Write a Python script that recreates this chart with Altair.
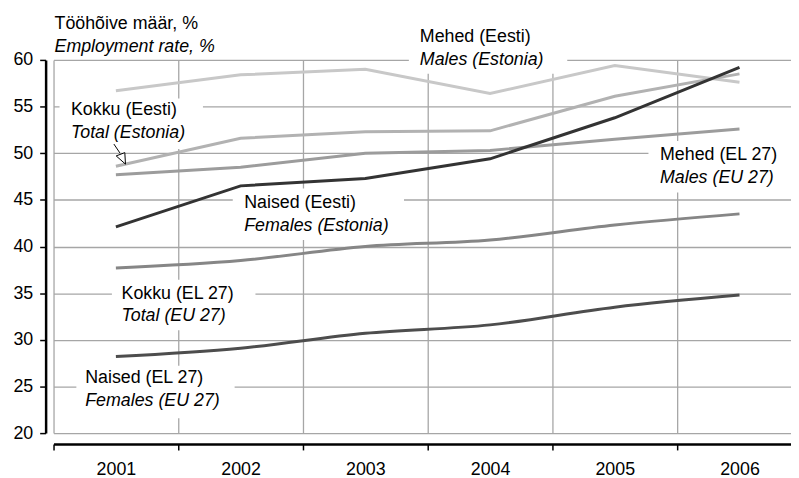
import altair as alt
import pandas as pd

FONT = "Liberation Sans"
FS = 18

years = [2001, 2002, 2003, 2004, 2005, 2006]
males_est = [56.7, 58.4, 59.0, 56.4, 59.4, 57.6]
total_est = [48.6, 51.6, 52.3, 52.4, 56.1, 58.5]
males_eu = [47.7, 48.5, 50.0, 50.3, 51.5, 52.6]
total_eu = [37.7, 38.5, 40.0, 40.7, 42.3, 43.5]
females_eu = [28.2, 29.1, 30.7, 31.6, 33.5, 34.8]
females_est = [42.1, 46.5, 47.3, 49.4, 53.8, 59.2]

series = [
    ("Mehed (Eesti)", males_est, "#c8c8c8", "linear"),
    ("Kokku (Eesti)", total_est, "#b2b2b2", "linear"),
    ("Mehed (EL 27)", males_eu, "#9c9c9c", "linear"),
    ("Kokku (EL 27)", total_eu, "#868686", "monotone"),
    ("Naised (EL 27)", females_eu, "#4d4d4d", "monotone"),
    ("Naised (Eesti)", females_est, "#333333", "linear"),
]

# annotation labels (anchor in data units: year, value at baseline)
ann_line1 = ["Mehed (Eesti)", "Kokku (Eesti)", "Naised (Eesti)", "Mehed (EL 27)", "Kokku (EL 27)", "Naised (EL 27)"]
ann_line2 = ["Males (Estonia)", "Total (Estonia)", "Females (Estonia)", "Males (EU 27)", "Total (EU 27)", "Females (EU 27)"]
ann_x = [2003.437, 2000.64, 2002.029, 2005.363, 2001.045, 2000.754]
ann_y1 = [61.9, 54.06, 44.09, 49.27, 34.41, 25.34]
ann_y2 = [59.42, 51.62, 41.71, 46.79, 31.97, 22.93]
box_x1 = [2003.349, 2000.548, 2001.937, 2005.27, 2000.968, 2000.683]
box_x2 = [2004.619, 2001.698, 2003.31, 2006.5, 2002.119, 2001.952]
box_y1 = [63.5, 55.86, 46.21, 51.3, 36.45, 27.21]
box_y2 = [58.51, 50.45, 40.69, 45.78, 31.03, 21.59]

# arrow for "Kokku (Eesti)"
arrow_x = [2000.984, 2001.032]
arrow_y = [50.98, 50.03]
head_x = [2001.05]
head_y = [49.53]

ytick_values = [20, 25, 30, 35, 40, 45, 50, 55, 60]

GRID = "#a6a6a6"

xscale = alt.Scale(domain=[2000.5, 2006.413], nice=False, zero=False)
yscale = alt.Scale(domain=[20, 60], nice=False, zero=False)

xaxis = alt.Axis(
    values=[y - 0.5 for y in years],
    labelExpr="format(datum.value + 0.5, 'd')",
    labelOffset=63,
    grid=True, gridColor=GRID, gridWidth=1.3,
    domainColor="black", domainWidth=2.5,
    tickColor="black", tickWidth=1.5, tickSize=6,
    offset=11, labelFontSize=FS, labelFont=FONT, labelColor="black",
    labelPadding=11, title=None, labelFlush=False, labelOverlap=False, labelBound=False,
)
yaxis = alt.Axis(
    values=ytick_values,
    grid=True, gridColor=GRID, gridWidth=1.3,
    domainColor="black", domainWidth=2.5,
    tickColor="black", tickWidth=1.5, tickSize=6,
    offset=8, labelFontSize=FS, labelFont=FONT, labelColor="black",
    labelPadding=7, title=None,
)

X = alt.X("year:Q", scale=xscale, axis=xaxis)
Y = alt.Y("value:Q", scale=yscale, axis=yaxis)

boxes = pd.DataFrame({"year": box_x1, "year2": box_x2, "value": box_y1, "value2": box_y2})
box_layer = alt.Chart(boxes).mark_rect(fill="white", stroke=None).encode(
    x=X, x2="year2:Q", y=Y, y2="value2:Q"
)

layers = [box_layer]
for name, vals, color, interp in series:
    df = pd.DataFrame({"year": years, "value": vals})
    layers.append(
        alt.Chart(df).mark_line(color=color, strokeWidth=3, interpolate=interp).encode(x=X, y=Y)
    )

t1 = pd.DataFrame({"year": ann_x, "value": ann_y1, "label": ann_line1})
t2 = pd.DataFrame({"year": ann_x, "value": ann_y2, "label": ann_line2})
layers.append(alt.Chart(t1).mark_text(align="left", baseline="alphabetic", fontSize=FS, font=FONT, color="black").encode(x=X, y=Y, text="label:N"))
layers.append(alt.Chart(t2).mark_text(align="left", baseline="alphabetic", fontSize=FS, font=FONT, fontStyle="italic", color="black").encode(x=X, y=Y, text="label:N"))

arrow = pd.DataFrame({"year": arrow_x, "value": arrow_y})
layers.append(alt.Chart(arrow).mark_line(color="black", strokeWidth=1).encode(x=X, y=Y))
head = pd.DataFrame({"year": head_x, "value": head_y})
layers.append(
    alt.Chart(head).mark_point(
        shape="M -1.2 -0.34 L 0.54 -1 L 0.68 1.32 Z", size=100, filled=True,
        fill="white", stroke="black", strokeWidth=1, opacity=1,
    ).encode(x=X, y=Y)
)

chart = alt.layer(*layers).properties(
    width=745, height=377,
    autosize="none",
    padding={"left": 46, "top": 50, "right": 0, "bottom": 52},
    title=alt.TitleParams(
        text="Tööhõive määr, %", subtitle="Employment rate, %",
        anchor="start", frame="group", fontSize=FS, fontWeight="normal",
        subtitleFontSize=FS, subtitleFontStyle="italic", subtitleColor="black",
        color="black", font=FONT, subtitleFont=FONT, offset=6, subtitlePadding=5, dx=1, dy=35,
    ),
).configure_view(stroke=None)

chart.save("out.html", embed_options={"renderer": "svg", "actions": False})
